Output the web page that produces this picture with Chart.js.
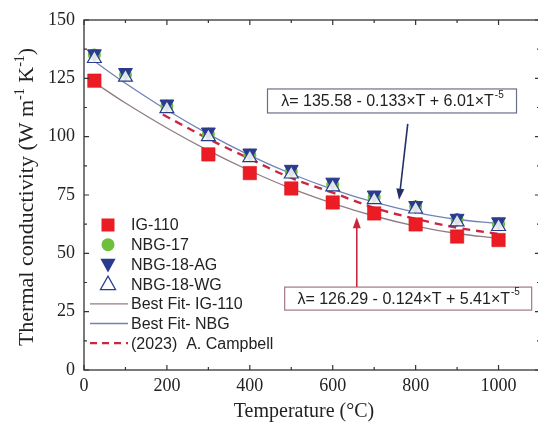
<!DOCTYPE html>
<html>
<head>
<meta charset="utf-8">
<script src="https://cdn.jsdelivr.net/npm/chart.js@4.4.1/dist/chart.umd.min.js"></script>
<style>
  html, body { margin: 0; padding: 0; background: #fff; overflow: hidden; }
  #wrap { width: 550px; height: 422px; }
</style>
</head>
<body>
<div id="wrap"><canvas id="c" width="550" height="422"></canvas></div>
<script>
// ---- data ----
const igTemps = [25, 300, 400, 500, 600, 700, 800, 900, 1000];
const ig110 = [124, 92.4, 84.4, 77.8, 71.8, 67.1, 62.4, 57.2, 55.7];

const nbgTemps = [25, 100, 200, 300, 400, 500, 600, 700, 800, 900, 1000];
const nbg17 = [135, 126.5, 113, 101, 92, 85, 79.5, 74, 70, 64.5, 62.5];
const nbg18AG = [135.5, 127.5, 114, 102, 93, 86, 80.5, 75, 70.5, 65, 63.5];
const nbg18WG = [133.5, 125.5, 112, 100, 91, 84, 78.5, 73, 69, 63.5, 61.5];

const fitTemps = [25, 100, 200, 300, 400, 500, 600, 700, 800, 900, 1000];
const fitIG = [123.2, 114.4, 103.7, 94.0, 85.4, 77.8, 71.4, 66.0, 61.7, 58.5, 56.4];
const fitNBG = [132.3, 122.9, 111.4, 101.1, 92.0, 84.1, 77.4, 71.9, 67.6, 64.6, 62.7];

const campTemps = [190, 300, 400, 500, 600, 700, 800, 900, 1000];
const campbell = [109.5, 99.1, 90.5, 82.3, 76, 69.5, 64.8, 61, 58.3];

const xTicks = [0, 200, 400, 600, 800, 1000];
const yTicks = [0, 25, 50, 75, 100, 125, 150];

const pts = (xs, ys) => xs.map((x, i) => ({ x: x, y: ys[i] }));

const RED = '#ec1c24', GREEN = '#6dbf3c', NAVY = '#2a3b8f', CAMP = '#c9283e';
const FIT_IG = '#8e7d84', FIT_NBG = '#7282b8';
const SERIF = '"Liberation Serif", "Times New Roman", serif';
const SANS = '"Liberation Sans", Arial, sans-serif';

// legend rows drawn inside the plot
const legendRows = [
  { label: 'IG-110', kind: 'ig' },
  { label: 'NBG-17', kind: 'n17' },
  { label: 'NBG-18-AG', kind: 'ag' },
  { label: 'NBG-18-WG', kind: 'wg' },
  { label: 'Best Fit- IG-110', kind: 'fitig' },
  { label: 'Best Fit- NBG', kind: 'fitnbg' },
  { label: '(2023)  A. Campbell', kind: 'camp' }
];

function tri(ctx, x, y, r, down) {
  ctx.beginPath();
  const s = down ? -1 : 1;
  ctx.moveTo(x, y - s * r);
  ctx.lineTo(x - r * 0.95, y + s * r * 0.7);
  ctx.lineTo(x + r * 0.95, y + s * r * 0.7);
  ctx.closePath();
}

const decor = {
  id: 'decor',
  afterDraw(chart) {
    const ctx = chart.ctx, a = chart.chartArea;
    const xs = chart.scales.x, ys = chart.scales.y;
    ctx.save();

    // frame
    ctx.strokeStyle = '#333';
    ctx.lineWidth = 1.3;
    ctx.strokeRect(a.left, a.top, a.right - a.left, a.bottom - a.top);

    // inward ticks
    ctx.lineWidth = 1.2;
    ctx.beginPath();
    for (let v = 0; v <= 1100; v += 100) {
      const px = xs.getPixelForValue(v);
      const len = v % 200 === 0 ? 5 : 3;
      ctx.moveTo(px, a.bottom); ctx.lineTo(px, a.bottom - len);
      ctx.moveTo(px, a.top); ctx.lineTo(px, a.top + len);
    }
    for (let v = 0; v <= 150; v += 12.5) {
      const py = ys.getPixelForValue(v);
      const len = v % 25 === 0 ? 5 : 3;
      ctx.moveTo(a.left, py); ctx.lineTo(a.left + len, py);
      ctx.moveTo(a.right, py); ctx.lineTo(a.right - len, py);
    }
    ctx.stroke();

    // axis titles
    ctx.fillStyle = '#222';
    ctx.font = '20px ' + SERIF;
    ctx.textAlign = 'center';
    ctx.textBaseline = 'alphabetic';
    ctx.fillText('Temperature (\u00B0C)', 304, 417);

    ctx.save();
    ctx.translate(33, 197);
    ctx.rotate(-Math.PI / 2);
    const parts = [['Thermal conductivity (W m', 0], ['-1', 1], [' K', 0], ['-1', 1], [')', 0]];
    let total = 0;
    parts.forEach(p => { ctx.font = (p[1] ? '14px ' : '22px ') + SERIF; total += ctx.measureText(p[0]).width; });
    let cx = -total / 2;
    ctx.textAlign = 'left';
    parts.forEach(p => {
      ctx.font = (p[1] ? '14px ' : '22px ') + SERIF;
      ctx.fillText(p[0], cx, p[1] ? -9 : 0);
      cx += ctx.measureText(p[0]).width;
    });
    ctx.restore();

    // legend
    ctx.font = '16px ' + SANS;
    ctx.textAlign = 'left';
    ctx.textBaseline = 'middle';
    legendRows.forEach((row, i) => {
      const y = 225 + i * 19.7, mx = 108;
      if (row.kind === 'ig') {
        ctx.fillStyle = RED; ctx.fillRect(mx - 6.5, y - 6.5, 13, 13);
      } else if (row.kind === 'n17') {
        ctx.fillStyle = GREEN; ctx.beginPath(); ctx.arc(mx, y, 6.5, 0, Math.PI * 2); ctx.fill();
      } else if (row.kind === 'ag') {
        ctx.fillStyle = NAVY; tri(ctx, mx, y, 8, true); ctx.fill();
      } else if (row.kind === 'wg') {
        ctx.fillStyle = '#fff'; ctx.strokeStyle = NAVY; ctx.lineWidth = 1.2;
        tri(ctx, mx, y, 8, false); ctx.fill(); ctx.stroke();
      } else {
        ctx.beginPath();
        ctx.strokeStyle = row.kind === 'fitig' ? FIT_IG : row.kind === 'fitnbg' ? FIT_NBG : CAMP;
        ctx.lineWidth = row.kind === 'camp' ? 2.2 : 1.3;
        ctx.setLineDash(row.kind === 'camp' ? [7, 5] : []);
        ctx.moveTo(90, y); ctx.lineTo(128, y); ctx.stroke();
        ctx.setLineDash([]);
      }
      ctx.fillStyle = '#222';
      ctx.fillText(row.label, 131, y + 1);
    });

    // equation boxes, anchored in data coordinates
    function eqBox(t, v, w, h, border, a0, b0, c0) {
      const cxp = xs.getPixelForValue(t), cyp = ys.getPixelForValue(v);
      ctx.fillStyle = '#fff';
      ctx.fillRect(cxp - w / 2, cyp - h / 2, w, h);
      ctx.strokeStyle = border; ctx.lineWidth = 1.2;
      ctx.strokeRect(cxp - w / 2, cyp - h / 2, w, h);
      const main = '\u03BB= ' + a0 + ' - ' + b0 + '\u00D7T + ' + c0 + '\u00D7T';
      ctx.font = '16px ' + SANS;
      const mw = ctx.measureText(main).width;
      ctx.font = '10px ' + SANS;
      const sw = ctx.measureText('-5').width;
      let sx = cxp - (mw + sw) / 2;
      ctx.fillStyle = '#222';
      ctx.textAlign = 'left'; ctx.textBaseline = 'middle';
      ctx.font = '16px ' + SANS;
      ctx.fillText(main, sx, cyp + 1);
      ctx.font = '10px ' + SANS;
      ctx.fillText('-5', sx + mw + 1, cyp - 6);
    }
    eqBox(743, 115.3, 249, 24, '#6a6f88', '135.58', '0.133', '6.01');
    eqBox(782, 30.6, 247, 23, '#a07880', '126.29', '0.124', '5.41');

    // arrows
    function arrow(t0, v0, t1, v1, col) {
      const x0 = xs.getPixelForValue(t0), y0 = ys.getPixelForValue(v0);
      const x1 = xs.getPixelForValue(t1), y1 = ys.getPixelForValue(v1);
      const ang = Math.atan2(y1 - y0, x1 - x0);
      ctx.strokeStyle = col; ctx.fillStyle = col; ctx.lineWidth = 1.6;
      ctx.beginPath(); ctx.moveTo(x0, y0);
      ctx.lineTo(x1 - 8 * Math.cos(ang), y1 - 8 * Math.sin(ang)); ctx.stroke();
      ctx.beginPath();
      ctx.moveTo(x1, y1);
      ctx.lineTo(x1 - 11 * Math.cos(ang) + 4 * Math.sin(ang), y1 - 11 * Math.sin(ang) - 4 * Math.cos(ang));
      ctx.lineTo(x1 - 11 * Math.cos(ang) - 4 * Math.sin(ang), y1 - 11 * Math.sin(ang) + 4 * Math.cos(ang));
      ctx.closePath(); ctx.fill();
    }
    arrow(781, 105.5, 760, 73, '#223066');
    arrow(658, 35.6, 658, 65.5, '#c8283c');

    ctx.restore();
  }
};

new Chart(document.getElementById('c'), {
  type: 'scatter',
  data: {
    datasets: [
      { label: 'NBG-18-WG', data: pts(nbgTemps, nbg18WG), order: 1, pointStyle: 'triangle',
        pointRadius: 8, backgroundColor: 'rgba(255,255,255,0.85)', borderColor: NAVY, borderWidth: 1.2 },
      { label: 'NBG-18-AG', data: pts(nbgTemps, nbg18AG), order: 2, pointStyle: 'triangle', rotation: 180,
        pointRadius: 8, backgroundColor: NAVY, borderColor: NAVY, borderWidth: 1 },
      { label: 'NBG-17', data: pts(nbgTemps, nbg17), order: 3, pointStyle: 'circle',
        pointRadius: 6.5, backgroundColor: GREEN, borderColor: GREEN, borderWidth: 0 },
      { label: 'IG-110', data: pts(igTemps, ig110), order: 4, pointStyle: 'rect',
        pointRadius: 9.5, backgroundColor: RED, borderColor: '#d0141c', borderWidth: 0.5 },
      { label: '(2023) A. Campbell', data: pts(campTemps, campbell), order: 5, showLine: true,
        pointRadius: 0, borderColor: CAMP, borderWidth: 2.4, borderDash: [8, 6], tension: 0.4, fill: false },
      { label: 'Best Fit- IG-110', data: pts(fitTemps, fitIG), order: 6, showLine: true,
        pointRadius: 0, borderColor: FIT_IG, borderWidth: 1.3, tension: 0.4, fill: false },
      { label: 'Best Fit- NBG', data: pts(fitTemps, fitNBG), order: 7, showLine: true,
        pointRadius: 0, borderColor: FIT_NBG, borderWidth: 1.3, tension: 0.4, fill: false }
    ]
  },
  options: {
    responsive: false,
    animation: false,
    devicePixelRatio: 1,
    layout: { padding: { left: 0, top: 20, right: 5, bottom: 0 } },
    plugins: { legend: { display: false }, tooltip: { enabled: false } },
    scales: {
      x: {
        type: 'linear', min: 0, max: 1100,
        grid: { display: false, drawTicks: false },
        border: { display: false },
        ticks: { font: { family: SERIF, size: 18 }, color: '#222', padding: 5, callback: v => String(v) },
        afterBuildTicks: s => { s.ticks = xTicks.map(v => ({ value: v })); },
        afterFit: s => { s.height = 52; s.paddingLeft = 0; s.paddingRight = 0; }
      },
      y: {
        min: 0, max: 150,
        grid: { display: false, drawTicks: false },
        border: { display: false },
        ticks: { font: { family: SERIF, size: 18 }, color: '#222', padding: 9, callback: v => String(v) },
        afterBuildTicks: s => { s.ticks = yTicks.map(v => ({ value: v })); },
        afterFit: s => { s.width = 84; s.paddingTop = 0; s.paddingBottom = 0; }
      }
    }
  },
  plugins: [decor]
});
</script>
</body>
</html>
